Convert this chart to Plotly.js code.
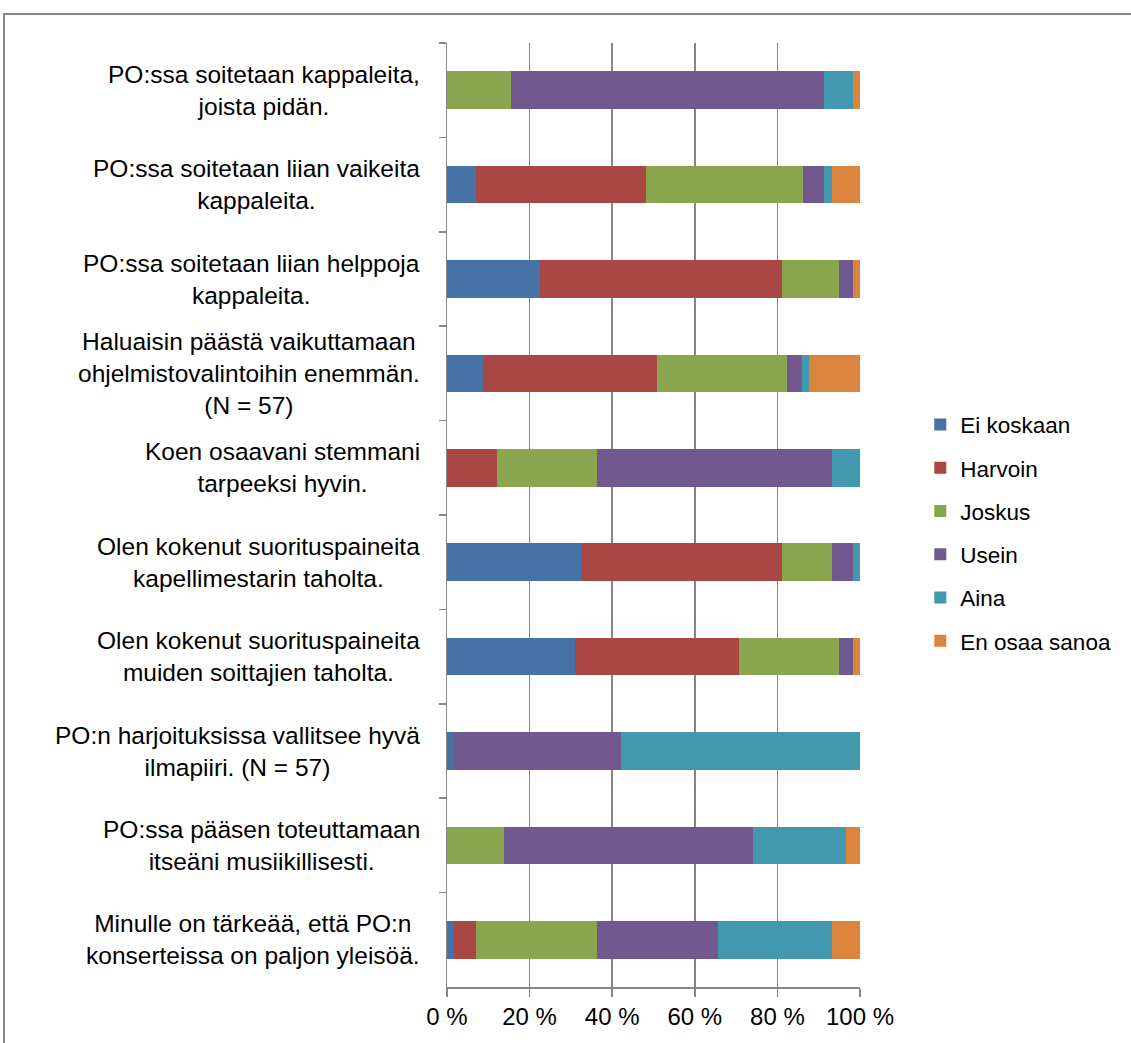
<!DOCTYPE html>
<html>
<head>
<meta charset="utf-8">
<script src="https://cdn.plot.ly/plotly-3.0.1.min.js"></script>
<style>
  html, body { margin: 0; padding: 0; background: #ffffff; }
  #chart { width: 1131px; height: 1043px; }
</style>
</head>
<body>
<div id="chart"></div>
<script>
// Categories (top to bottom)
const categories = [
  "PO:ssa soitetaan kappaleita,<br>joista pidän.",
  "PO:ssa soitetaan liian vaikeita<br>kappaleita.",
  "PO:ssa soitetaan liian helppoja<br>kappaleita.",
  "Haluaisin päästä vaikuttamaan<br>ohjelmistovalintoihin enemmän.<br>(N = 57)",
  "Koen osaavani stemmani<br>tarpeeksi hyvin.",
  "Olen kokenut suorituspaineita<br>kapellimestarin taholta.",
  "Olen kokenut suorituspaineita<br>muiden soittajien taholta.",
  "PO:n harjoituksissa vallitsee hyvä<br>ilmapiiri. (N = 57)",
  "PO:ssa pääsen toteuttamaan<br>itseäni musiikillisesti.",
  "Minulle on tärkeää, että PO:n<br>konserteissa on paljon yleisöä."
];

// Series values (% of respondents)
const eiKoskaan   = [0,    6.9, 22.4,  8.8,  0,   32.8, 31.0,  1.8,  0,    1.7];
const harvoin     = [0,   41.4, 58.6, 42.1, 12.1, 48.3, 39.7,  0,    0,    5.2];
const joskus      = [15.5, 37.9, 13.8, 31.6, 24.1, 12.1, 24.1, 0,   13.8, 29.3];
const usein       = [75.9,  5.2,  3.4,  3.5, 56.9,  5.2,  3.4, 40.4, 60.3, 29.3];
const aina        = [6.9,   1.7,  0,    1.8,  6.9,  1.7,  0,   57.9, 22.4, 27.6];
const enOsaaSanoa = [1.7,   6.9,  1.7, 12.3,  0,    0,    1.7,  0,    3.4,  6.9];

const seriesNames = ["Ei koskaan", "Harvoin", "Joskus", "Usein", "Aina", "En osaa sanoa"];
const seriesValues = [eiKoskaan, harvoin, joskus, usein, aina, enOsaaSanoa];
const seriesColors = ["#4572A7", "#AA4643", "#89A54E", "#71588F", "#4198AF", "#DB843D"];

// x tick labels
const tickValues = [0, 20, 40, 60, 80, 100];
const tickLabels = ["0 %", "20 %", "40 %", "60 %", "80 %", "100 %"];

const FONT = "Liberation Sans, Arial, sans-serif";
const GRAY = "#868686";

const traces = seriesNames.map((name, i) => ({
  type: "bar",
  orientation: "h",
  name: name,
  legendgroup: "g" + i,
  y: categories,
  x: seriesValues[i],
  marker: { color: seriesColors[i] },
  hoverinfo: "x+name"
}));

const annotations = categories.map(c => ({
  xref: "paper", yref: "y",
  x: -0.06, y: c,
  xanchor: "right", yanchor: "middle",
  align: "center",
  text: c,
  showarrow: false,
  font: { family: FONT, size: 24.5, color: "#000000" }
}));

const layout = {
  width: 1131,
  height: 1043,
  paper_bgcolor: "#ffffff",
  plot_bgcolor: "#ffffff",
  margin: { l: 447, r: 271, t: 43, b: 56 },
  barmode: "stack",
  barnorm: "percent",
  bargap: 0.6,
  showlegend: true,
  legend: {
    x: 1.146, xanchor: "left",
    y: 0.481, yanchor: "middle",
    traceorder: "grouped",
    tracegroupgap: 11,
    font: { family: FONT, size: 22.5, color: "#000000" },
    bgcolor: "rgba(0,0,0,0)"
  },
  xaxis: {
    range: [0, 100],
    tickvals: tickValues,
    ticktext: tickLabels,
    tickfont: { family: FONT, size: 24, color: "#000000" },
    showgrid: true,
    gridcolor: GRAY,
    gridwidth: 1.5,
    zeroline: false,
    showline: true,
    linecolor: GRAY,
    linewidth: 1.5,
    ticks: "outside",
    ticklen: 8,
    tickwidth: 1.5,
    tickcolor: GRAY,
    fixedrange: true
  },
  yaxis: {
    type: "category",
    autorange: "reversed",
    showticklabels: false,
    showgrid: false,
    zeroline: false,
    showline: true,
    linecolor: GRAY,
    linewidth: 1.5,
    ticks: "outside",
    tickson: "boundaries",
    ticklen: 7,
    tickwidth: 1.5,
    tickcolor: GRAY,
    fixedrange: true
  },
  annotations: annotations,
  shapes: [{
    type: "rect",
    xref: "paper", yref: "paper",
    x0: (4 - 447) / 413, x1: (1140 - 447) / 413,
    y0: (987 - 1060) / 944, y1: (987 - 14) / 944,
    line: { color: GRAY, width: 2 },
    fillcolor: "rgba(0,0,0,0)",
    layer: "below"
  }]
};

Plotly.newPlot("chart", traces, layout, { displayModeBar: false, staticPlot: true });
</script>
</body>
</html>
